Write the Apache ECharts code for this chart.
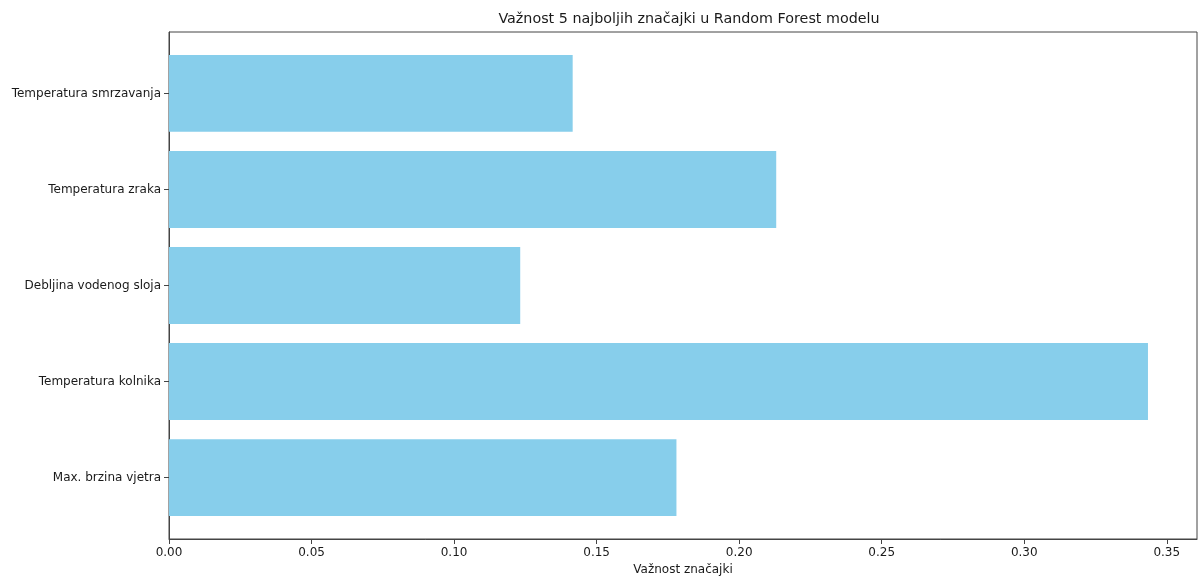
<!DOCTYPE html>
<html>
<head>
<meta charset="utf-8">
<script src="https://cdn.jsdelivr.net/npm/echarts@6/dist/echarts.min.js"></script>
<style>
html,body{margin:0;padding:0;background:#fff;}
#chart{width:1199px;height:579px;}
</style>
</head>
<body>
<div id="chart"></div>
<script>
const categories = ['Max. brzina vjetra', 'Temperatura kolnika', 'Debljina vodenog sloja', 'Temperatura zraka', 'Temperatura smrzavanja'];
const importance = [0.1780, 0.3434, 0.1232, 0.2130, 0.1416];
const xTicks = [0, 0.05, 0.10, 0.15, 0.20, 0.25, 0.30, 0.35];
const titleText = 'Važnost 5 najboljih značajki u Random Forest modelu';
const xName = 'Važnost značajki';

const FONT = 'DejaVu Sans';
const TXT = '#1a1a1a';
const AX = '#444';
const xMax = 0.3606;

// matplotlib-like y limits: bars of height 0.8, 5% margins
const unitsTotal = 5.28;
const plotTop = 32, plotBottom = 539;
const plotH = plotBottom - plotTop;
const unitPx = plotH / unitsTotal;
const innerTop = plotTop + 0.14 * unitPx;
const innerH = 5 * unitPx;

const chart = echarts.init(document.getElementById('chart'), null, {renderer: 'canvas'});
chart.setOption({
  animation: false,
  backgroundColor: '#fff',
  title: {
    text: titleText,
    left: 684, top: 7, textAlign: 'center',
    textStyle: {fontFamily: FONT, fontSize: 14.3, fontWeight: 'normal', color: TXT}
  },
  grid: [
    {left: 169, right: 2, top: plotTop, height: plotH, show: true, borderColor: AX, borderWidth: 1,
     backgroundColor: 'transparent', outerBoundsMode: 'none', containLabel: false},
    {left: 169, right: 2, top: innerTop, height: innerH, show: false, outerBoundsMode: 'none', containLabel: false}
  ],
  xAxis: [
    {
      type: 'value', gridIndex: 0, min: 0, max: xMax,
      name: xName, nameLocation: 'middle', nameGap: 25,
      nameTextStyle: {fontFamily: FONT, fontSize: 12, color: TXT},
      splitLine: {show: false},
      axisLine: {show: true, lineStyle: {color: AX, width: 1}},
      axisTick: {show: true, length: 5, lineStyle: {color: AX}, customValues: xTicks},
      axisLabel: {fontFamily: FONT, fontSize: 12, color: TXT, margin: 8, customValues: xTicks,
        formatter: v => v.toFixed(2)}
    },
    {
      type: 'value', gridIndex: 1, min: 0, max: xMax, show: false
    }
  ],
  yAxis: [
    {
      type: 'value', gridIndex: 0, min: 0, max: 1,
      axisLine: {show: true, lineStyle: {color: AX, width: 1}},
      axisTick: {show: false}, axisLabel: {show: false}, splitLine: {show: false}
    },
    {
      type: 'category', gridIndex: 1, data: categories,
      axisLine: {show: false},
      axisTick: {show: true, alignWithLabel: true, length: 5, lineStyle: {color: AX}},
      axisLabel: {fontFamily: FONT, fontSize: 12, color: TXT, margin: 8},
      splitLine: {show: false}
    }
  ],
  series: [{
    type: 'bar',
    xAxisIndex: 1, yAxisIndex: 1,
    data: importance,
    barWidth: '80%',
    itemStyle: {color: '#87CEEB'},
    silent: true
  }]
});
</script>
</body>
</html>
